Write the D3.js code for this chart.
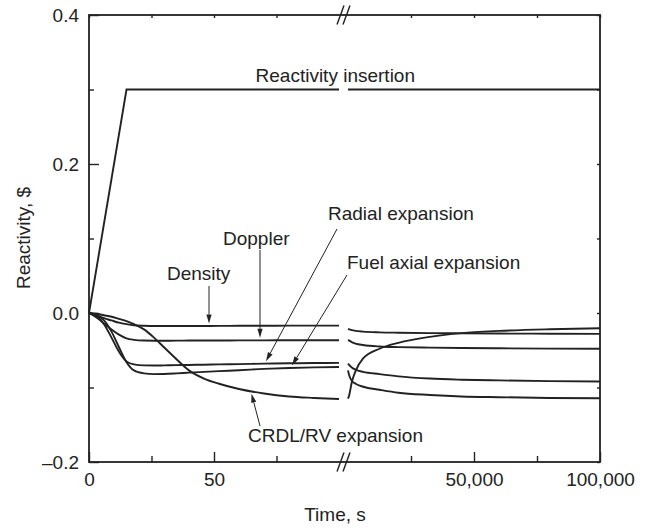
<!DOCTYPE html>
<html>

<head>
    <meta http-equiv="Content-Type" content="text/html; charset=UTF-8">
    <style>
        body { margin: 0; background: #fff; }
        text { font-family: "Liberation Sans", Arial, Helvetica, sans-serif; fill: #222; }
    </style>
</head>

<body>
    <svg width="645" height="530"></svg>
    <script src="https://cdnjs.cloudflare.com/ajax/libs/d3/7.8.5/d3.min.js"></script>

    <script>

        let width = 645, height = 530;
        let fontSize = 19;

        // Left part of the time axis: 0 - 100 s
        let tLeft = [0, 3, 6, 9, 12, 15, 18, 22, 26, 30, 35, 40, 46, 52, 60, 70, 80, 90, 100];
        let densityLeft = [0, -0.003, -0.007, -0.010, -0.013, -0.015, -0.0165, -0.0172, -0.0175, -0.0175, -0.0175, -0.0175, -0.0174, -0.0173, -0.0172, -0.0171, -0.017, -0.017, -0.017];
        let dopplerLeft = [0, -0.006, -0.014, -0.022, -0.029, -0.034, -0.036, -0.037, -0.0372, -0.0372, -0.0371, -0.037, -0.037, -0.0369, -0.0368, -0.0367, -0.0366, -0.0365, -0.0365];
        let radialLeft = [0, -0.004, -0.015, -0.033, -0.052, -0.065, -0.069, -0.0703, -0.0705, -0.0703, -0.070, -0.0697, -0.0694, -0.069, -0.0686, -0.068, -0.0675, -0.0672, -0.067];
        let fuelLeft = [0, -0.003, -0.010, -0.025, -0.046, -0.066, -0.077, -0.081, -0.082, -0.0818, -0.081, -0.080, -0.079, -0.078, -0.0768, -0.075, -0.0738, -0.073, -0.0725];
        let crdlLeft = [0, -0.001, -0.003, -0.005, -0.008, -0.011, -0.015, -0.022, -0.033, -0.046, -0.062, -0.077, -0.088, -0.095, -0.102, -0.108, -0.112, -0.114, -0.1155];

        // Right part of the time axis: 0 - 100,000 s
        let tRight = [0, 500, 1500, 3000, 6000, 12500, 20000, 32500, 45000, 60000, 80000, 100000];
        let densityRight = [-0.0215, -0.022, -0.023, -0.024, -0.025, -0.026, -0.0265, -0.027, -0.0273, -0.0276, -0.0278, -0.028];
        let dopplerRight = [-0.036, -0.037, -0.039, -0.041, -0.043, -0.045, -0.0458, -0.0465, -0.047, -0.0474, -0.0478, -0.048];
        let radialRight = [-0.068, -0.070, -0.073, -0.076, -0.079, -0.082, -0.085, -0.088, -0.0895, -0.0905, -0.0915, -0.092];
        let fuelRight = [-0.077, -0.084, -0.091, -0.095, -0.099, -0.103, -0.107, -0.110, -0.112, -0.113, -0.114, -0.1145];
        let crdlRight = [-0.115, -0.110, -0.093, -0.078, -0.061, -0.048, -0.040, -0.032, -0.027, -0.024, -0.0218, -0.0205];

        // Reactivity insertion (ramp then constant)
        let tInsertLeft = [0, 15, 100];
        let insertLeft = [0, 0.3, 0.3];
        let tInsertRight = [0, 100000];
        let insertRight = [0.3, 0.3];

        let yMajor = [-0.2, 0, 0.2, 0.4];
        let yMinor = [-0.1, 0.1, 0.3];
        let xLeftMajor = [0, 50];
        let xLeftMinor = [25, 75];
        let xRightMajor = [50000, 100000];
        let xRightMinor = [25000, 75000];

        let svg = d3.select("svg")
            .attr("viewBox", "0 0 " + width + " " + height);

        let pLeft = 89, pRight = 600, pTop = 15, pBottom = 462;

        let xL = d3.scaleLinear().domain([0, 100]).range([pLeft, 339]);
        let xR = d3.scaleLinear().domain([0, 100000]).range([348, pRight]);
        let y = d3.scaleLinear().domain([-0.2, 0.4]).range([pBottom, pTop]);

        let series = [
            { name: "density", l: densityLeft, r: densityRight },
            { name: "doppler", l: dopplerLeft, r: dopplerRight },
            { name: "radial", l: radialLeft, r: radialRight },
            { name: "fuel", l: fuelLeft, r: fuelRight },
            { name: "crdl", l: crdlLeft, r: crdlRight }
        ];

        let lineL = d3.line().x(d => xL(d[0])).y(d => y(d[1])).curve(d3.curveMonotoneX);
        let lineR = d3.line().x(d => xR(d[0])).y(d => y(d[1])).curve(d3.curveMonotoneX);

        let curves = svg.append("g")
            .attr("fill", "none")
            .attr("stroke", "#222")
            .attr("stroke-width", 1.9);

        series.forEach(s => {
            curves.append("path").attr("d", lineL(d3.zip(tLeft, s.l)));
            curves.append("path").attr("d", lineR(d3.zip(tRight, s.r)));
        });

        curves.append("path").attr("d", d3.line().x(d => xL(d[0])).y(d => y(d[1]))(d3.zip(tInsertLeft, insertLeft)));
        curves.append("path").attr("d", d3.line().x(d => xR(d[0])).y(d => y(d[1]))(d3.zip(tInsertRight, insertRight)));

        // Frame
        svg.append("rect")
            .attr("x", pLeft).attr("y", pTop)
            .attr("width", pRight - pLeft).attr("height", pBottom - pTop)
            .attr("fill", "none").attr("stroke", "#222").attr("stroke-width", 1.8);

        function styleAxis(g) {
            g.select(".domain").remove();
            g.selectAll("line").attr("stroke", "#222").attr("stroke-width", 1.4);
            g.selectAll("text").style("font-size", fontSize + "px").attr("fill", "#222");
        }

        let yFmt = d => (d < 0 ? "\u2013" : "") + Math.abs(d).toFixed(1);

        // Left axis
        svg.append("g").attr("transform", "translate(" + pLeft + ",0)")
            .call(d3.axisLeft(y).tickValues(yMajor).tickFormat(yFmt).tickSizeInner(-10).tickSizeOuter(0).tickPadding(10))
            .call(styleAxis);
        svg.append("g").attr("transform", "translate(" + pLeft + ",0)")
            .call(d3.axisLeft(y).tickValues(yMinor).tickFormat("").tickSizeInner(-5).tickSizeOuter(0))
            .call(styleAxis);
        // Right axis small ticks
        svg.append("g").attr("transform", "translate(" + pRight + ",0)")
            .call(d3.axisRight(y).tickValues(yMajor.concat(yMinor)).tickFormat("").tickSizeInner(-3).tickSizeOuter(0))
            .call(styleAxis);

        // Bottom axis
        svg.append("g").attr("transform", "translate(0," + pBottom + ")")
            .call(d3.axisBottom(xL).tickValues(xLeftMajor).tickFormat(d3.format("d")).tickSizeInner(-10).tickSizeOuter(0).tickPadding(11))
            .call(styleAxis);
        svg.append("g").attr("transform", "translate(0," + pBottom + ")")
            .call(d3.axisBottom(xL).tickValues(xLeftMinor).tickFormat("").tickSizeInner(-6).tickSizeOuter(0))
            .call(styleAxis);
        svg.append("g").attr("transform", "translate(0," + pBottom + ")")
            .call(d3.axisBottom(xR).tickValues(xRightMajor).tickFormat(d3.format(",")).tickSizeInner(-10).tickSizeOuter(0).tickPadding(11))
            .call(styleAxis);
        svg.append("g").attr("transform", "translate(0," + pBottom + ")")
            .call(d3.axisBottom(xR).tickValues(xRightMinor).tickFormat("").tickSizeInner(-6).tickSizeOuter(0))
            .call(styleAxis);

        // Top axis small ticks
        svg.append("g").attr("transform", "translate(0," + pTop + ")")
            .call(d3.axisTop(xL).tickValues(xLeftMajor.concat(xLeftMinor)).tickFormat("").tickSizeInner(-3).tickSizeOuter(0))
            .call(styleAxis);
        svg.append("g").attr("transform", "translate(0," + pTop + ")")
            .call(d3.axisTop(xR).tickValues(xRightMajor.concat(xRightMinor)).tickFormat("").tickSizeInner(-3).tickSizeOuter(0))
            .call(styleAxis);

        // Axis break marks
        let breakX = (xL.range()[1] + xR.range()[0]) / 2;
        [pTop, pBottom].forEach(yy => {
            [-3, 3].forEach(off => {
                svg.append("line")
                    .attr("x1", breakX + off - 3.5).attr("y1", yy + 9.5)
                    .attr("x2", breakX + off + 3.5).attr("y2", yy - 9.5)
                    .attr("stroke", "#222").attr("stroke-width", 1.4);
            });
        });

        // Axis titles
        svg.append("text")
            .attr("x", 335).attr("y", 521)
            .attr("text-anchor", "middle")
            .style("font-size", fontSize + "px")
            .text("Time, s");

        svg.append("text")
            .attr("transform", "translate(30,238) rotate(-90)")
            .attr("text-anchor", "middle")
            .style("font-size", fontSize + "px")
            .text("Reactivity, $");

        // Annotations
        function valueAt(ts, vs, t) {
            let i = d3.bisectLeft(ts, t);
            if (i <= 0) return vs[0];
            let f = (t - ts[i - 1]) / (ts[i] - ts[i - 1]);
            return vs[i - 1] + f * (vs[i] - vs[i - 1]);
        }

        let annotations = [
            { text: "Reactivity insertion", tx: 415, ty: 82, anchor: "end" },
            { text: "Density", tx: 167, ty: 280, x0: 209, y0: 286, data: densityLeft, t: 48, side: -1 },
            { text: "Doppler", tx: 223, ty: 245, x0: 260, y0: 250, data: dopplerLeft, t: 68.4, side: -1 },
            { text: "Radial expansion", tx: 328, ty: 220, x0: 337, y0: 229, data: radialLeft, t: 70.8, side: -1 },
            { text: "Fuel axial expansion", tx: 347, ty: 269, x0: 347, y0: 275, data: fuelLeft, t: 81.2, side: -1 },
            { text: "CRDL/RV expansion", tx: 248, ty: 442, x0: 260, y0: 426, data: crdlLeft, t: 65, side: 1 }
        ];

        let ann = svg.append("g");
        annotations.forEach(a => {
            ann.append("text")
                .attr("x", a.tx).attr("y", a.ty)
                .attr("text-anchor", a.anchor || "start")
                .style("font-size", fontSize + "px")
                .text(a.text);
            if (!a.data) return;
            let x1 = xL(a.t);
            let y1 = y(valueAt(tLeft, a.data, a.t)) + a.side * 2.5;
            let dx = x1 - a.x0, dy = y1 - a.y0;
            let len = Math.sqrt(dx * dx + dy * dy);
            let ux = dx / len, uy = dy / len;
            let headL = 9, headW = 2.6;
            let bx = x1 - ux * headL, by = y1 - uy * headL;
            ann.append("line")
                .attr("x1", a.x0).attr("y1", a.y0)
                .attr("x2", bx).attr("y2", by)
                .attr("stroke", "#222").attr("stroke-width", 1);
            ann.append("path")
                .attr("d", "M" + x1 + "," + y1 +
                    "L" + (bx - uy * headW) + "," + (by + ux * headW) +
                    "L" + (bx + uy * headW) + "," + (by - ux * headW) + "Z")
                .attr("fill", "#222");
        });

    </script>

</body>

</html>
